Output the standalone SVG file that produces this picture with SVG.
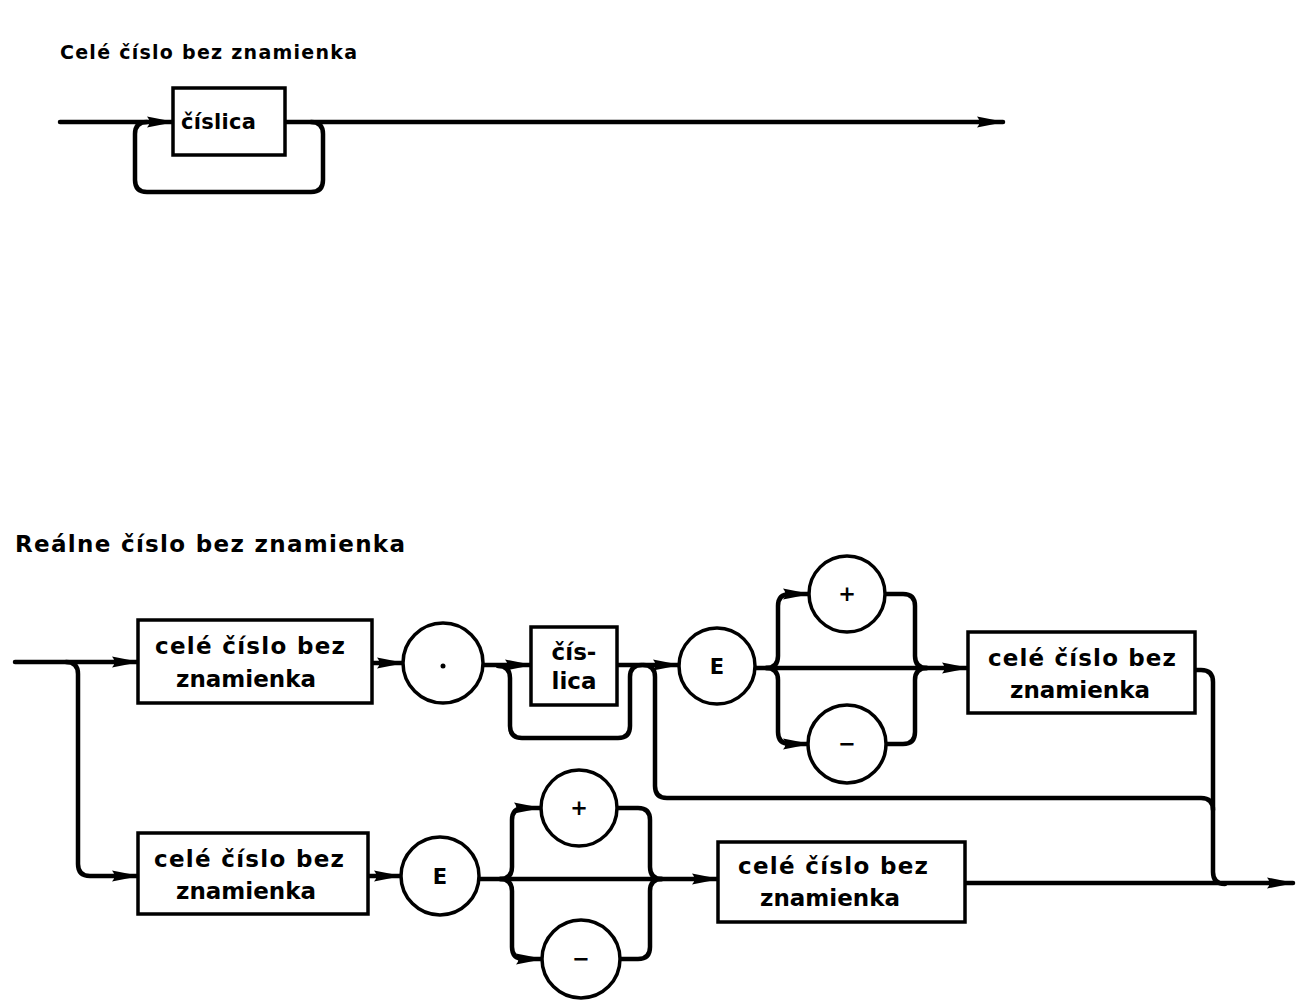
<svg xmlns="http://www.w3.org/2000/svg" width="1303" height="1006" viewBox="0 0 1303 1006">
<defs>
<marker id="arr" markerUnits="userSpaceOnUse" markerWidth="28" markerHeight="14" refX="26" refY="7" orient="auto">
<path d="M0,1.5 L28,7 L0,12.5 Q5,7 0,1.5 Z" fill="#000"/>
</marker>
<style>
.ln{fill:none;stroke:#000;stroke-width:4.5;stroke-linecap:round;stroke-linejoin:round}
.bx{fill:#fff;stroke:#000;stroke-width:3.5}
.t{font-family:"DejaVu Sans","Liberation Sans",sans-serif;font-weight:bold;fill:#000}
.c{text-anchor:middle}
</style>
</defs>
<rect width="1303" height="1006" fill="#fff"/>
<text class="t" x="60" y="59" font-size="19" textLength="297" lengthAdjust="spacing">Celé číslo bez znamienka</text>
<text class="t" x="15" y="552" font-size="23" textLength="390" lengthAdjust="spacing" style="font-weight:600">Reálne číslo bez znamienka</text>
<g id="connectors">
<path class="ln" d="M60,122 H173" marker-end="url(#arr)"/>
<path class="ln" d="M285,122 H1003" marker-end="url(#arr)"/>
<path class="ln" d="M311,122 Q323,122 323,134 V180 Q323,192 311,192 H147 Q135,192 135,180 V134 Q135,122 147,122"/>
<path class="ln" d="M15,662 H138" marker-end="url(#arr)"/>
<path class="ln" d="M66,662 Q78,662 78,674 V864 Q78,876 90,876 H138" marker-end="url(#arr)"/>
<path class="ln" d="M372,663 H403" marker-end="url(#arr)"/>
<path class="ln" d="M483,665 H531" marker-end="url(#arr)"/>
<path class="ln" d="M498,666 Q510,666 510,678 V726 Q510,738 522,738 H618 Q630,738 630,726 V677 Q630,665 642,665"/>
<path class="ln" d="M617,665 H679" marker-end="url(#arr)"/>
<path class="ln" d="M643,665 Q655,665 655,677 V786 Q655,798 667,798 H1201 Q1213,798 1213,810"/>
<path class="ln" d="M1195,670 H1201 Q1213,670 1213,682 V872 Q1213,884 1225,884"/>
<path class="ln" d="M755,668 H968" marker-end="url(#arr)"/>
<path class="ln" d="M766,668 Q778,668 778,656 V606 Q778,594 790,594 H809" marker-end="url(#arr)"/>
<path class="ln" d="M766,668 Q778,668 778,680 V732 Q778,744 790,744 H809" marker-end="url(#arr)"/>
<path class="ln" d="M885,594 H903 Q915,594 915,606 V656 Q915,668 927,668"/>
<path class="ln" d="M885,744 H903 Q915,744 915,732 V680 Q915,668 927,668"/>
<path class="ln" d="M368,876 H400" marker-end="url(#arr)"/>
<path class="ln" d="M479,879 H718" marker-end="url(#arr)"/>
<path class="ln" d="M500,879 Q512,879 512,867 V820 Q512,808 524,808 H540" marker-end="url(#arr)"/>
<path class="ln" d="M500,879 Q512,879 512,891 V947 Q512,959 524,959 H542" marker-end="url(#arr)"/>
<path class="ln" d="M618,808 H638 Q650,808 650,820 V867 Q650,879 662,879"/>
<path class="ln" d="M620,959 H638 Q650,959 650,947 V891 Q650,879 662,879"/>
<path class="ln" d="M965,883 H1293" marker-end="url(#arr)"/>
</g>
<g id="n-cislica-top">
<rect class="bx" x="173" y="88" width="112" height="67"/>
<text class="t" x="181" y="129" font-size="21" textLength="75" lengthAdjust="spacing">číslica</text>
</g>
<g id="n-cele1">
<rect class="bx" x="138" y="620" width="234" height="83"/>
<text class="t c" x="250" y="654" font-size="23" textLength="190" lengthAdjust="spacing">celé číslo bez</text>
<text class="t c" x="246" y="687" font-size="23">znamienka</text>
</g>
<g id="n-dot">
<circle class="bx" cx="443" cy="663" r="40"/>
<circle cx="443" cy="666" r="2.5" fill="#000"/>
</g>
<g id="n-cislica2">
<rect class="bx" x="531" y="627" width="86" height="78"/>
<text class="t c" x="574" y="660" font-size="23">čís-</text>
<text class="t c" x="574" y="689" font-size="23">lica</text>
</g>
<g id="n-E1">
<circle class="bx" cx="717" cy="666" r="38"/>
<text class="t c" x="717" y="674" font-size="21">E</text>
</g>
<g id="n-plus1">
<circle class="bx" cx="847" cy="594" r="38"/>
<text class="t c" x="847" y="601" font-size="21">+</text>
</g>
<g id="n-minus1">
<circle class="bx" cx="847" cy="744" r="39"/>
<text class="t c" x="847" y="751" font-size="21">−</text>
</g>
<g id="n-cele2">
<rect class="bx" x="968" y="632" width="227" height="81"/>
<text class="t c" x="1082" y="666" font-size="23" textLength="188" lengthAdjust="spacing">celé číslo bez</text>
<text class="t c" x="1080" y="698" font-size="23">znamienka</text>
</g>
<g id="n-cele3">
<rect class="bx" x="138" y="833" width="230" height="81"/>
<text class="t c" x="249" y="867" font-size="23" textLength="190" lengthAdjust="spacing">celé číslo bez</text>
<text class="t c" x="246" y="899" font-size="23">znamienka</text>
</g>
<g id="n-E2">
<circle class="bx" cx="440" cy="876" r="39"/>
<text class="t c" x="440" y="884" font-size="21">E</text>
</g>
<g id="n-plus2">
<circle class="bx" cx="579" cy="808" r="38"/>
<text class="t c" x="579" y="815" font-size="21">+</text>
</g>
<g id="n-minus2">
<circle class="bx" cx="581" cy="959" r="39"/>
<text class="t c" x="581" y="966" font-size="21">−</text>
</g>
<g id="n-cele4">
<rect class="bx" x="718" y="842" width="247" height="80"/>
<text class="t c" x="833" y="874" font-size="23" textLength="190" lengthAdjust="spacing">celé číslo bez</text>
<text class="t c" x="830" y="906" font-size="23">znamienka</text>
</g>
</svg>
